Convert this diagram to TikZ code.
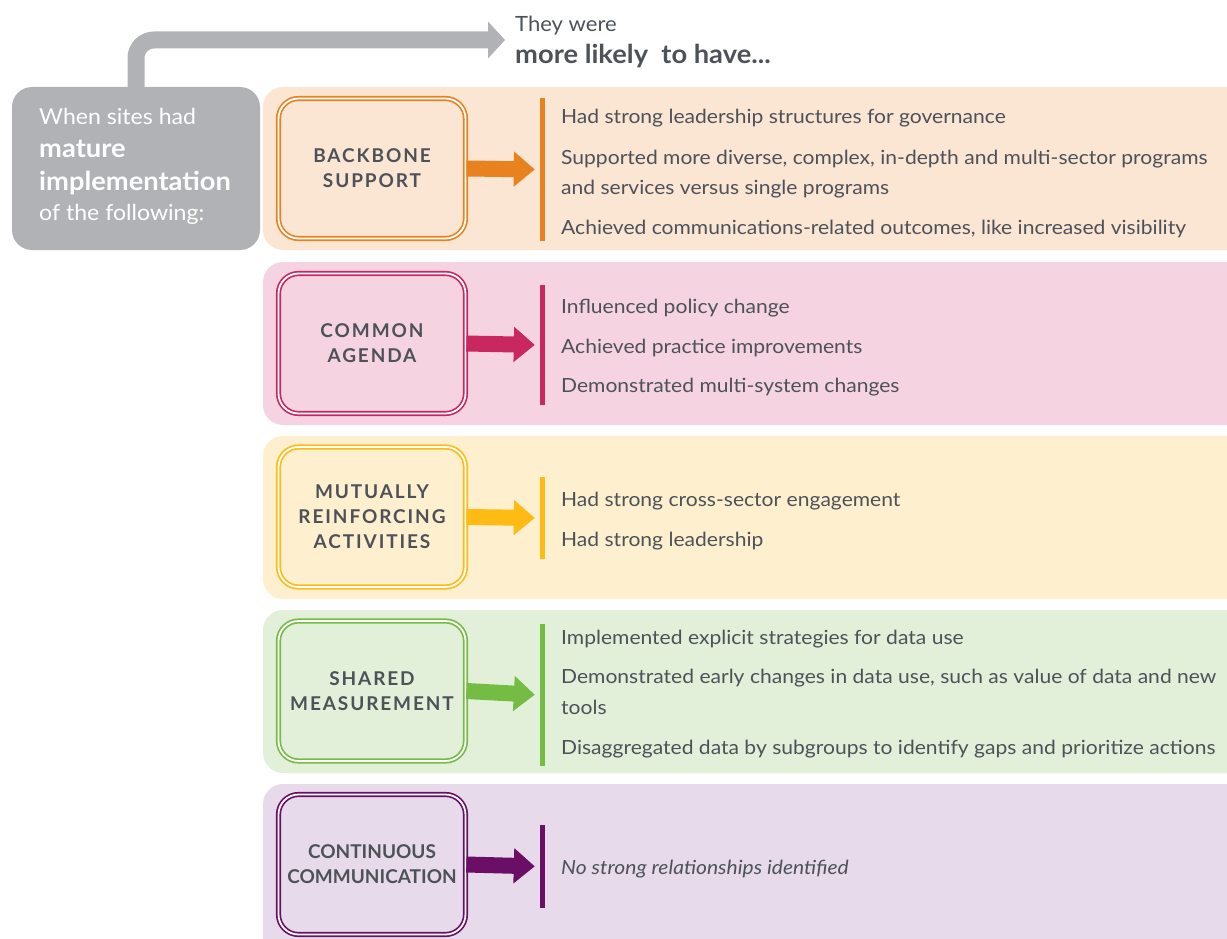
\documentclass[tikz,border=0pt]{standalone}
\usepackage{fontspec}
\setmainfont{Lato}
\newfontfamily\spacedfont[LetterSpace=10]{Lato}
\newfontfamily\bodyfont[FakeStretch=1.08]{Lato}
\newfontfamily\headfont[FakeStretch=1.05]{Lato}
\usetikzlibrary{arrows.meta}

\definecolor{ink}{HTML}{4D5259}
\definecolor{slate}{HTML}{B1B2B5}
\definecolor{orangeline}{HTML}{E8821E}
\definecolor{orangebg}{HTML}{FBE5D3}
\definecolor{pinkline}{HTML}{C8285F}
\definecolor{pinkbg}{HTML}{F5D3E1}
\definecolor{yellowline}{HTML}{FDBB13}
\definecolor{yellowbg}{HTML}{FEF0CE}
\definecolor{greenline}{HTML}{74BC43}
\definecolor{greenbg}{HTML}{E2F0D9}
\definecolor{purpleline}{HTML}{6A0E66}
\definecolor{purplebg}{HTML}{E7DAEA}

\tikzset{
	band/.style={fill=#1bg, rounded corners=20},
	pillar/.style={draw=#1line, fill=#1bg, double=white, double distance=1.8, line width=1.7,
		rounded corners=20, minimum width=187, minimum height=140, inner sep=0,
		align=center, text=ink, font=\spacedfont\bfseries\fontsize{19}{25}\selectfont},
	bar/.style={fill=#1line, minimum width=5, inner sep=0},
	fat/.style={draw=#1line, line width=16, -{Triangle[length=21pt,width=34pt]}, shorten >=5},
	item/.style={anchor=base west, inner sep=0, text=ink, align=left,
		font=\bodyfont\fontsize{19.5}{31}\selectfont},
	whitetext/.style={anchor=base west, inner sep=0, text=white},
}

\begin{document}
\begin{tikzpicture}[x=1pt,y=-1pt]% {{{ maturity
	\useasboundingbox (0,0) rectangle (1227,939);

	% left condition box and bent arrow
	\node[fill=slate, rounded corners=20, minimum width=248, minimum height=163, inner sep=0] (cond) at (136,168.5) {};
	\node[whitetext, font=\headfont\fontsize{22}{26}\selectfont] (when) at (39,125) {When sites had};
	\node[whitetext, font=\headfont\bfseries\fontsize{26}{30}\selectfont] (mature) at (39,158) {mature};
	\node[whitetext, font=\headfont\bfseries\fontsize{26}{30}\selectfont] (impl) at (39,190) {implementation};
	\node[whitetext, font=\headfont\fontsize{22}{26}\selectfont] (following) at (39,220) {of the following:};

	\coordinate (goal) at (505,40);
	\draw[slate, line width=17, rounded corners=18, -{Triangle[length=17pt,width=36pt]}] (cond.north) |- (goal);
	\node[anchor=base west, inner sep=0, text=ink, font=\headfont\fontsize{21}{25}\selectfont] (they) at (515,32) {They were};
	\node[anchor=base west, inner sep=0, text=ink, font=\headfont\bfseries\fontsize{26}{30}\selectfont] (likely) at (515,64) {more likely\ \ to have...};

	% backbone support
	\fill[band=orange] (263,87) rectangle (1260,250);
	\node[pillar=orange] (backbone) at (372,168.5) {BACKBONE\\SUPPORT};
	\node[bar=orange, minimum height=143] (bbbar) at (542.5,169.5) {};
	\draw[fat=orange] (backbone.east) -- (bbbar.west);
	\node[item] (bb1) at (561,124) {Had strong leadership structures for governance};
	\node[item] (bb2) at (561,195) {Supported more diverse, complex, in-depth and multi-sector programs\\and services versus single programs};
	\node[item] (bb3) at (561,234) {Achieved communications-related outcomes, like increased visibility};

	% common agenda
	\fill[band=pink] (263,262) rectangle (1260,425);
	\node[pillar=pink] (agenda) at (372,343.5) {COMMON\\AGENDA};
	\node[bar=pink, minimum height=120] (cabar) at (542.5,345) {};
	\draw[fat=pink] (agenda.east) -- (cabar.west);
	\node[item] (ca1) at (561,313) {Influenced policy change};
	\node[item] (ca2) at (561,353) {Achieved practice improvements};
	\node[item] (ca3) at (561,392) {Demonstrated multi-system changes};

	% mutually reinforcing activities
	\fill[band=yellow] (263,436) rectangle (1260,599);
	\node[pillar=yellow] (mutual) at (372,517) {MUTUALLY\\REINFORCING\\ACTIVITIES};
	\node[bar=yellow, minimum height=82] (mrbar) at (542.5,518) {};
	\draw[fat=yellow] (mutual.east) -- (mrbar.west);
	\node[item] (mr1) at (561,506) {Had strong cross-sector engagement};
	\node[item] (mr2) at (561,546) {Had strong leadership};

	% shared measurement
	\fill[band=green] (263,610) rectangle (1260,773);
	\node[pillar=green] (shared) at (372,691) {SHARED\\MEASUREMENT};
	\node[bar=green, minimum height=142] (smbar) at (542.5,695) {};
	\draw[fat=green] (shared.east) -- (smbar.west);
	\node[item] (sm1) at (561,644) {Implemented explicit strategies for data use};
	\node[item] (sm2) at (561,714) {Demonstrated early changes in data use, such as value of data and new\\tools};
	\node[item] (sm3) at (561,754) {Disaggregated data by subgroups to identify gaps and prioritize actions};

	% continuous communication
	\fill[band=purple] (263,784) rectangle (1260,960);
	\node[pillar=purple, font=\bfseries\fontsize{19}{25}\selectfont] (comm) at (372,864.5) {CONTINUOUS\\COMMUNICATION};
	\node[bar=purple, minimum height=83] (ccbar) at (542.5,866.5) {};
	\draw[fat=purple] (comm.east) -- (ccbar.west);
	\node[item, font=\bodyfont\itshape\fontsize{19.5}{31}\selectfont] (cc1) at (561,874) {No strong relationships identified};
\end{tikzpicture}
\end{document}
